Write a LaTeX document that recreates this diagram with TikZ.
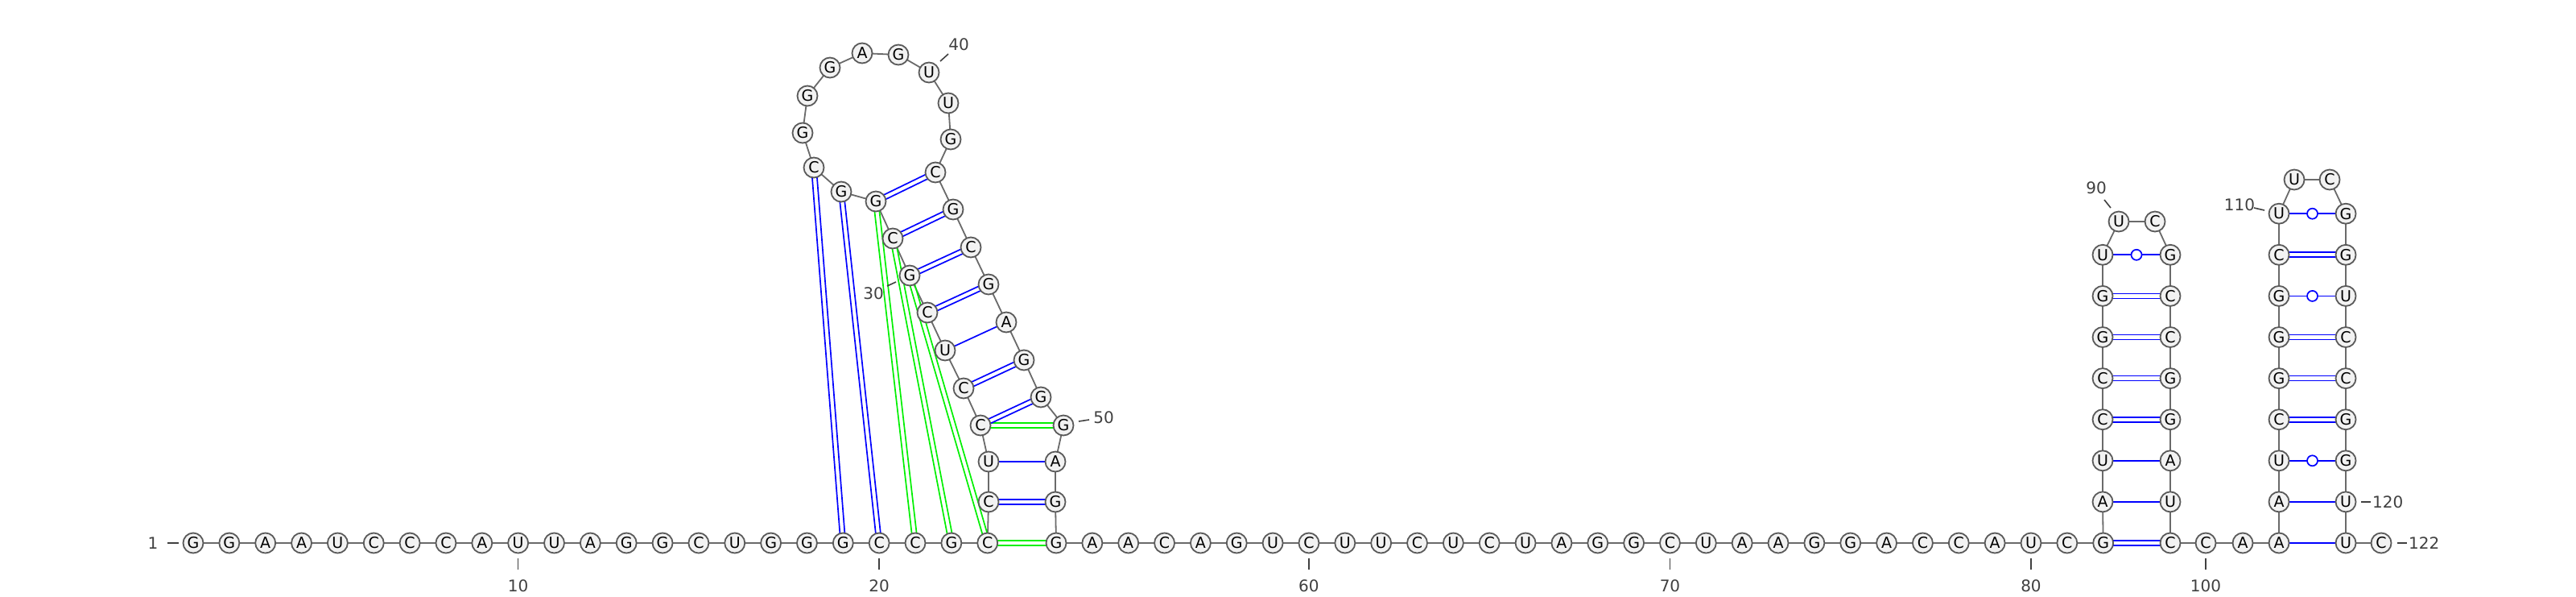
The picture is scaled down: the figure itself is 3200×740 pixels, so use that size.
\documentclass[tikz,border=0pt]{standalone}
\usepackage{fontspec}
\setmainfont{DejaVu Sans}
\usetikzlibrary{calc}
\definecolor{nfill}{HTML}{F2F2F2}
\definecolor{nedge}{HTML}{5A5A5A}
\definecolor{bbcol}{HTML}{6A6A6A}
\definecolor{lblcol}{HTML}{404040}
\definecolor{pblue}{HTML}{0000FF}
\definecolor{pgreen}{HTML}{00F000}
\newcommand\pairD[3]{%
  \draw[pl,#3] ($(p#1)!3pt!90:(p#2)$) -- ($(p#2)!3pt!-90:(p#1)$);
  \draw[pl,#3] ($(p#1)!3pt!-90:(p#2)$) -- ($(p#2)!3pt!90:(p#1)$);}
\newcommand\pairS[2]{\draw[pl,pblue] (p#1) -- (p#2);}
\newcommand\pairW[2]{\draw[pl,pblue] (p#1) -- (p#2);
  \node[gucirc] (gu#1) at ($(p#1)!0.5!(p#2)$) {};}
\begin{document}
\begin{tikzpicture}[x=1pt,y=-1pt,
  nt/.style={circle,draw=nedge,fill=nfill,line width=1.8pt,minimum size=25pt,inner sep=0pt,font=\fontsize{19}{19}\selectfont},
  bb/.style={draw=bbcol,line width=1.8pt},
  tick/.style={draw=lblcol,line width=1.6pt},
  lbl/.style={text=lblcol,font=\fontsize{20}{20}\selectfont,inner sep=0pt},
  pl/.style={line width=1.7pt},
  gucirc/.style={circle,draw=pblue,fill=white,line width=1.7pt,minimum size=13pt,inner sep=0pt}]
\useasboundingbox (0,0) rectangle (3200,740);
% ---- coordinates
\foreach \i in {1,...,23} \coordinate (p\i) at ({240+44.85*(\i-1)},674);
\foreach \i in {53,...,82} \coordinate (p\i) at ({1312+44.85*(\i-53)},674);
\foreach \i/\x/\y in {24/1228/623,25/1228/573,26/1218/528,27/1197/482,28/1174/435,
  29/1152/388,30/1130/342,31/1109/296,32/1088/250,33/1045/238,34/1011/208,
  35/997/165,36/1003/119,37/1031/84,38/1071/66,39/1116/68,40/1154/90,
  41/1178/128,42/1181/173,43/1162/214,44/1184/260,45/1206/307,46/1228/353,
  47/1250/400,48/1272/447,49/1293/493,50/1321/528,51/1311/573,52/1311/623}
  \coordinate (p\i) at (\x,\y);
\foreach \i in {83,...,89} \coordinate (p\i) at (2612,{674-51.1*(\i-82)});
\foreach \i in {92,...,98} \coordinate (p\i) at (2696,{674-51.1*(99-\i)});
\coordinate (p90) at (2632,275);
\coordinate (p91) at (2677,275);
\coordinate (p99) at (2696,674);
\coordinate (p100) at (2740,674);
\coordinate (p101) at (2786,674);
\coordinate (p102) at (2831,674);
\foreach \i in {103,...,110} \coordinate (p\i) at (2831,{674-51.1*(\i-102)});
\foreach \i in {113,...,120} \coordinate (p\i) at (2914,{674-51.1*(121-\i)});
\coordinate (p111) at (2850,223);
\coordinate (p112) at (2894,223);
\coordinate (p121) at (2914,674);
\coordinate (p122) at (2958,674);
% ---- backbone
\foreach \i [count=\c from 2] in {1,...,121} \draw[bb] (p\i) -- (p\c);
% ---- base pairs
\pairD{19}{34}{pblue}
\pairD{20}{33}{pblue}
\pairD{21}{32}{pgreen}
\pairD{22}{31}{pgreen}
\pairD{23}{30}{pgreen}
\pairD{23}{53}{pgreen}
\pairD{26}{50}{pgreen}
\pairD{32}{43}{pblue}
\pairD{31}{44}{pblue}
\pairD{30}{45}{pblue}
\pairD{29}{46}{pblue}
\pairS{28}{47}
\pairD{27}{48}{pblue}
\pairD{26}{49}{pblue}
\pairS{25}{51}
\pairD{24}{52}{pblue}
\pairD{82}{99}{pblue}
\pairS{83}{98}
\pairS{84}{97}
\pairD{85}{96}{pblue}
\pairD{86}{95}{pblue}
\pairD{87}{94}{pblue}
\pairD{88}{93}{pblue}
\pairW{89}{92}
\pairS{102}{121}
\pairS{103}{120}
\pairW{104}{119}
\pairD{105}{118}{pblue}
\pairD{106}{117}{pblue}
\pairD{107}{116}{pblue}
\pairW{108}{115}
\pairD{109}{114}{pblue}
\pairW{110}{113}
% ---- nucleotides
\foreach \i/\b in {1/G,2/G,3/A,4/A,5/U,6/C,7/C,8/C,9/A,10/U,11/U,12/A,13/G,14/G,15/C,
  16/U,17/G,18/G,19/G,20/C,21/C,22/G,23/C,24/C,25/U,26/C,27/C,28/U,29/C,30/G,
  31/C,32/G,33/G,34/C,35/G,36/G,37/G,38/A,39/G,40/U,41/U,42/G,43/C,44/G,45/C,
  46/G,47/A,48/G,49/G,50/G,51/A,52/G,53/G,54/A,55/A,56/C,57/A,58/G,59/U,60/C,
  61/U,62/U,63/C,64/U,65/C,66/U,67/A,68/G,69/G,70/C,71/U,72/A,73/A,74/G,75/G,
  76/A,77/C,78/C,79/A,80/U,81/C,82/G,83/A,84/U,85/C,86/C,87/G,88/G,89/U,90/U,
  91/C,92/G,93/C,94/C,95/G,96/G,97/A,98/U,99/C,100/C,101/A,102/A,103/A,104/U,105/C,
  106/G,107/G,108/G,109/C,110/U,111/U,112/C,113/G,114/G,115/U,116/C,117/C,118/G,119/G,
  120/U,121/U,122/C}
  \node[nt] (n\i) at (p\i) {\b};
% ---- position labels
\foreach \i in {10,20,60,70,80,100}{
  \coordinate (ta\i) at ($(p\i)+(0,19)$);
  \coordinate (tb\i) at ($(p\i)+(0,33)$);
  \draw[tick] (ta\i) -- (tb\i);
  \node[lbl] (lab\i) at ($(p\i)+(0,53)$) {\i};}
\coordinate (t1a) at (208,674); \coordinate (t1b) at (222,674);
\draw[tick] (t1a) -- (t1b);
\node[lbl] (lab1) at (190,674) {1};
\coordinate (t30a) at (1102,355); \coordinate (t30b) at (1113,350);
\draw[tick] (t30a) -- (t30b);
\node[lbl] (lab30) at (1085,364) {30};
\coordinate (t40a) at (1168,76); \coordinate (t40b) at (1178,67);
\draw[tick] (t40a) -- (t40b);
\node[lbl] (lab40) at (1191,55) {40};
\coordinate (t50a) at (1340,523); \coordinate (t50b) at (1353,521);
\draw[tick] (t50a) -- (t50b);
\node[lbl] (lab50) at (1371,518) {50};
\coordinate (t90a) at (2614,248); \coordinate (t90b) at (2622,258);
\draw[tick] (t90a) -- (t90b);
\node[lbl] (lab90) at (2604,233) {90};
\coordinate (t110a) at (2800,258); \coordinate (t110b) at (2813,261);
\draw[tick] (t110a) -- (t110b);
\node[lbl] (lab110) at (2782,254) {110};
\coordinate (t120a) at (2933,623); \coordinate (t120b) at (2945,623);
\draw[tick] (t120a) -- (t120b);
\node[lbl,anchor=west] (lab120) at (2947,623) {120};
\coordinate (t122a) at (2978,674); \coordinate (t122b) at (2990,674);
\draw[tick] (t122a) -- (t122b);
\node[lbl,anchor=west] (lab122) at (2992,674) {122};
\end{tikzpicture}
\end{document}
